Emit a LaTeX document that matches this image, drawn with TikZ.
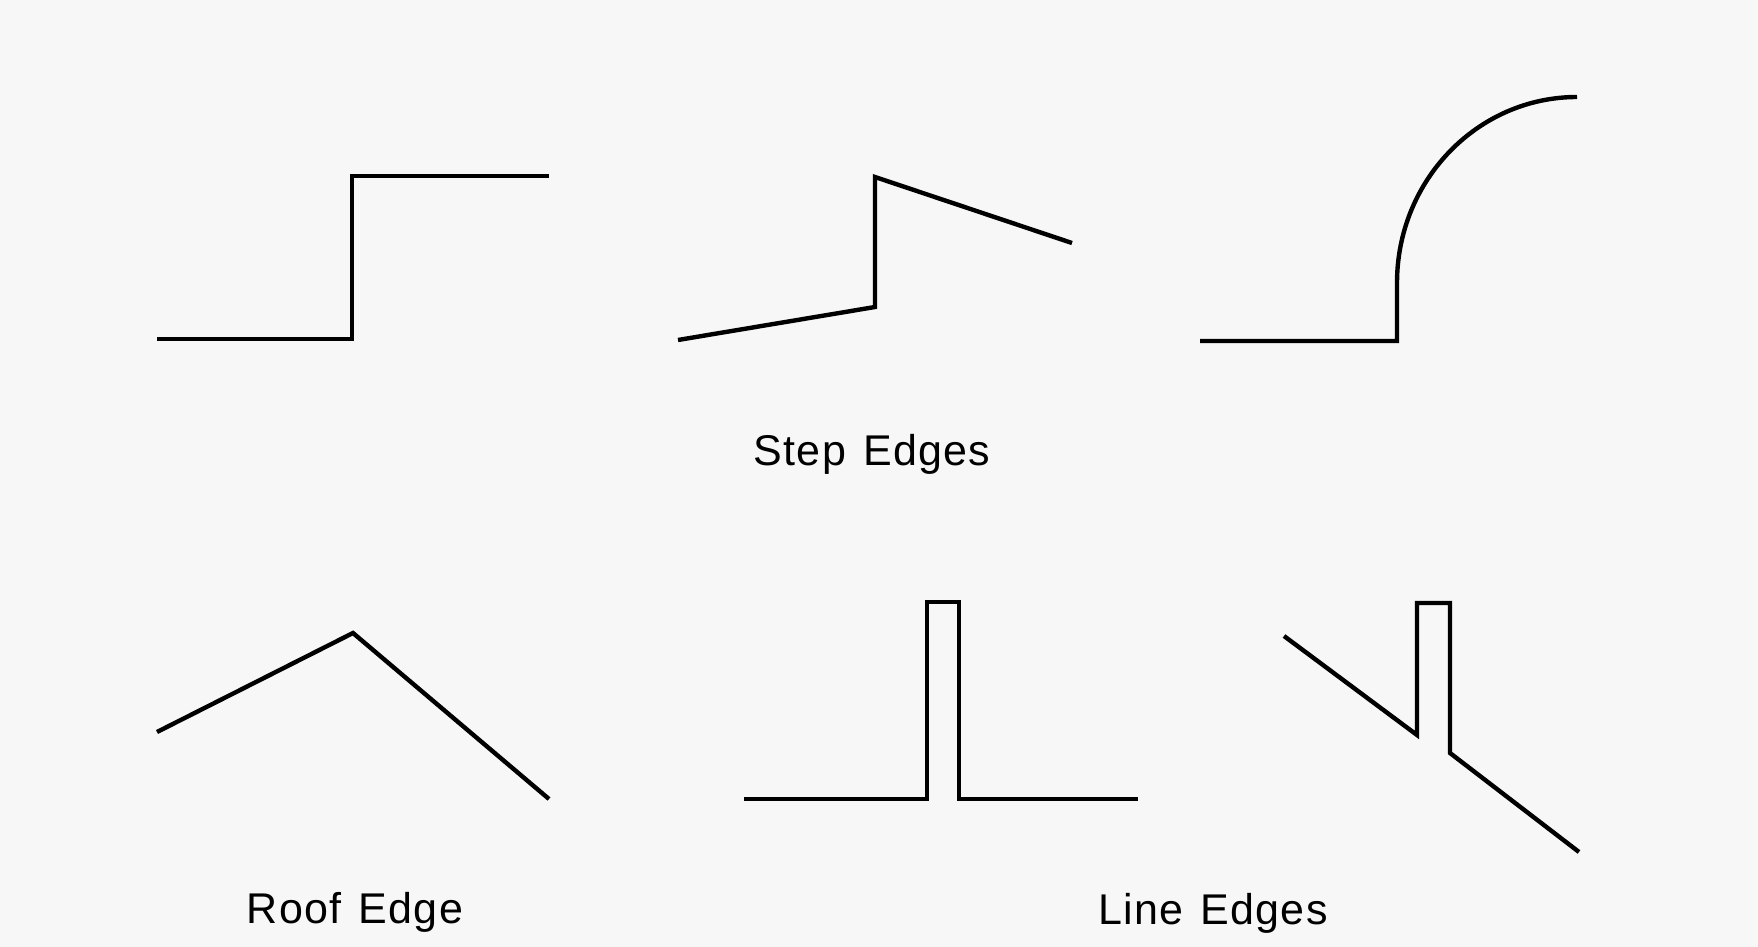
\documentclass[tikz,border=0pt]{standalone}
\usepackage{fontspec}
\setmainfont{Liberation Sans}
\begin{document}
\begin{tikzpicture}[x=0.5pt,y=-0.5pt,
  edgeline/.style={line width=2.2pt,line join=miter,black},
  caption/.style={font=\fontsize{21.5}{24}\selectfont\addfontfeature{LetterSpace=3},inner sep=0pt,anchor=base}]
\fill[gray!6] (0,0) rectangle (1758,947);
\useasboundingbox (0,0) rectangle (1758,947);
% step edge 1
\coordinate (a1) at (157,339); \coordinate (a2) at (352,339);
\coordinate (a3) at (352,176); \coordinate (a4) at (549,176);
\draw[edgeline] (a1) -- (a2) -- (a3) -- (a4);
% step edge 2
\coordinate (b1) at (678,340); \coordinate (b2) at (875,307);
\coordinate (b3) at (875,177); \coordinate (b4) at (1072,243);
\draw[edgeline] (b1) -- (b2) -- (b3) -- (b4);
% step edge 3
\coordinate (c1) at (1200,341); \coordinate (c2) at (1397,341);
\coordinate (c3) at (1397,283); \coordinate (c4) at (1577,97);
\draw[edgeline] (c1) -- (c2) -- (c3) .. controls (1397,180.3) and (1477.6,97) .. (c4);
\node[caption] (steplbl) at (872,465) {Step\hspace{0.4em}Edges};
% roof edge
\coordinate (r1) at (157,732); \coordinate (r2) at (353,633); \coordinate (r3) at (549,799);
\draw[edgeline] (r1) -- (r2) -- (r3);
\node[caption] (rooflbl) at (355,923) {Roof\hspace{0.4em}Edge};
% line edge 1
\coordinate (d1) at (744,799); \coordinate (d2) at (927,799);
\coordinate (d3) at (927,602); \coordinate (d4) at (959,602);
\coordinate (d5) at (959,799); \coordinate (d6) at (1138,799);
\draw[edgeline] (d1) -- (d2) -- (d3) -- (d4) -- (d5) -- (d6);
% line edge 2
\coordinate (e1) at (1284,636); \coordinate (e2) at (1417,735);
\coordinate (e3) at (1417,603); \coordinate (e4) at (1450,603);
\coordinate (e5) at (1450,753); \coordinate (e6) at (1579,852);
\draw[edgeline] (e1) -- (e2) -- (e3) -- (e4) -- (e5) -- (e6);
\node[caption] (linelbl) at (1213,924) {Line\hspace{0.4em}Edges};
\end{tikzpicture}
\end{document}
